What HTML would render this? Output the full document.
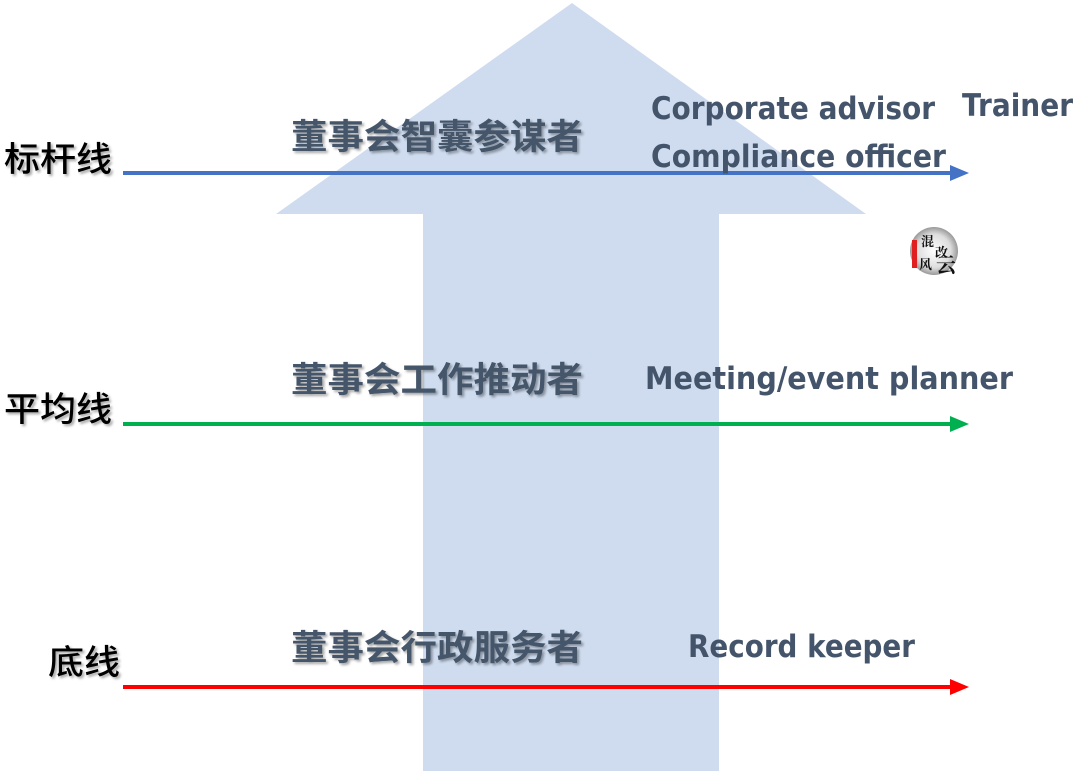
<!DOCTYPE html>
<html><head><meta charset="utf-8"><style>
html,body{margin:0;padding:0;background:#fff;width:1080px;height:775px;overflow:hidden}
svg{display:block}
.cn{font-family:"Noto Sans CJK SC",sans-serif;font-weight:bold;font-size:35px;fill:#44546a}
.lb{font-family:"Noto Sans CJK SC",sans-serif;font-weight:500;font-size:34px;fill:#000}
.en{font-family:"DejaVu Sans","Liberation Sans",sans-serif;font-weight:bold;font-size:31px;fill:#44546a}
</style></head><body>
<svg width="1080" height="775" viewBox="0 0 1080 775" xmlns="http://www.w3.org/2000/svg">
<defs>
<filter id="sh" x="-10%" y="-30%" width="120%" height="160%"><feDropShadow dx="2" dy="2" stdDeviation="1.2" flood-color="#000" flood-opacity="0.35"/></filter>
<radialGradient id="lg" cx="50%" cy="50%" r="50%"><stop offset="0" stop-color="#fff"/><stop offset="0.7" stop-color="#ddd"/><stop offset="1" stop-color="#999"/></radialGradient>
</defs>
<polygon points="572,3 866,214 719,214 719,771 423,771 423,214 276,214" fill="#cfdcef"/>
<line x1="123" y1="173" x2="952" y2="173" stroke="#4472c4" stroke-width="4"/>
<polygon points="950,165 969,173 950,181" fill="#4472c4"/>
<line x1="123" y1="424" x2="952" y2="424" stroke="#00b050" stroke-width="4"/>
<polygon points="950,416 969,424 950,432" fill="#00b050"/>
<line x1="123" y1="687" x2="952" y2="687" stroke="#ff0000" stroke-width="4"/>
<polygon points="950,679 969,687 950,695" fill="#ff0000"/>
<text class="lb" x="4" y="171" textLength="108" lengthAdjust="spacingAndGlyphs" filter="url(#sh)">标杆线</text>
<text class="lb" x="4" y="421" textLength="108" lengthAdjust="spacingAndGlyphs" filter="url(#sh)">平均线</text>
<text class="lb" x="48" y="674" textLength="72" lengthAdjust="spacingAndGlyphs" filter="url(#sh)">底线</text>
<text class="cn" x="291" y="149" textLength="292" lengthAdjust="spacingAndGlyphs" filter="url(#sh)">董事会智囊参谋者</text>
<text class="cn" x="291" y="392" textLength="292" lengthAdjust="spacingAndGlyphs" filter="url(#sh)">董事会工作推动者</text>
<text class="cn" x="291" y="660" textLength="292" lengthAdjust="spacingAndGlyphs" filter="url(#sh)">董事会行政服务者</text>
<text class="en" x="651" y="119" textLength="284" lengthAdjust="spacingAndGlyphs">Corporate advisor</text>
<text class="en" x="962" y="116" textLength="111" lengthAdjust="spacingAndGlyphs">Trainer</text>
<text class="en" x="651" y="167" textLength="295" lengthAdjust="spacingAndGlyphs">Compliance officer</text>
<text class="en" x="645" y="389" textLength="368" lengthAdjust="spacingAndGlyphs">Meeting/event planner</text>
<text class="en" x="688" y="657" textLength="227" lengthAdjust="spacingAndGlyphs">Record keeper</text>
<circle cx="934" cy="251" r="24" fill="url(#lg)"/>
<rect x="912" y="240" width="5" height="28" fill="#e02020"/>
<text x="921" y="246" font-family="Noto Serif CJK SC,serif" font-size="13" font-weight="bold" fill="#111">混</text>
<text x="935" y="257" font-family="Noto Serif CJK SC,serif" font-size="13" font-weight="bold" fill="#111">改</text>
<text x="919" y="269" font-family="Noto Serif CJK SC,serif" font-size="13" font-weight="bold" fill="#111">风</text>
<text x="936" y="272" font-family="Noto Serif CJK SC,serif" font-size="20" font-weight="bold" fill="#111">云</text>
</svg>
</body></html>
